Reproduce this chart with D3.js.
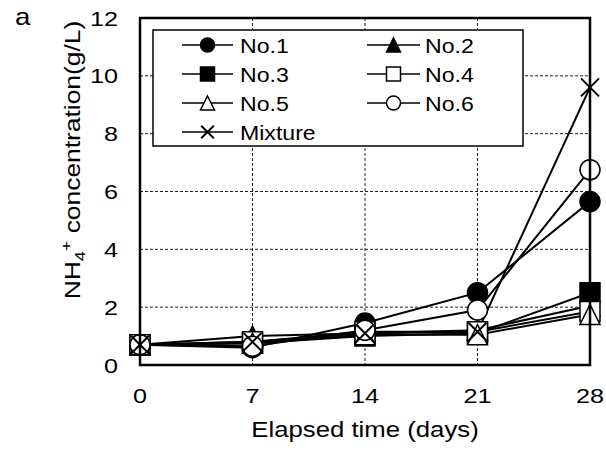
<!DOCTYPE html>
<html>
<head>
<meta charset="utf-8">
<script src="https://cdn.jsdelivr.net/npm/d3@7"></script>
<style>
  body { margin: 0; background: #fff; }
  text { font-family: "Liberation Sans", Arial, sans-serif; fill: #000; }
</style>
</head>
<body>
<div id="chart"></div>
<script>
// data
const days = [0, 7, 14, 21, 28];
const yTicks = [0, 2, 4, 6, 8, 10, 12];
const seriesNames = ["No.1", "No.2", "No.3", "No.4", "No.5", "No.6", "Mixture"];
const no1 = [0.7, 0.6, 1.45, 2.5, 5.65];
const no2 = [0.7, 1.0, 1.1, 1.2, 2.05];
const no3 = [0.7, 0.75, 1.0, 1.1, 2.5];
const no4 = [0.7, 0.8, 1.15, 1.15, 1.85];
const no5 = [0.7, 0.75, 1.05, 1.05, 1.75];
const no6 = [0.7, 0.65, 1.2, 1.9, 6.75];
const mixture = [0.7, 0.8, 1.1, 1.15, 9.6];

const series = [
  { name: seriesNames[0], values: no1, shape: "circle", fill: "#000" },
  { name: seriesNames[1], values: no2, shape: "triangle", fill: "#000" },
  { name: seriesNames[2], values: no3, shape: "square", fill: "#000" },
  { name: seriesNames[3], values: no4, shape: "square", fill: "#fff" },
  { name: seriesNames[4], values: no5, shape: "triangle", fill: "#fff" },
  { name: seriesNames[5], values: no6, shape: "circle", fill: "#fff" },
  { name: seriesNames[6], values: mixture, shape: "cross", fill: "none" }
];

const W = 606, H = 452;
const plot = { left: 140, right: 590, top: 18, bottom: 365 };

const svg = d3.select("#chart").append("svg")
  .attr("width", W).attr("height", H);

const x = d3.scaleLinear().domain([0, 28]).range([plot.left, plot.right]);
const y = d3.scaleLinear().domain([0, 12]).range([plot.bottom, plot.top]);

// marker path for a shape of size s
function markerPath(shape, s) {
  const h = s / 2;
  if (shape === "circle") {
    return `M${h},0A${h},${h} 0 1,1 ${-h},0A${h},${h} 0 1,1 ${h},0Z`;
  }
  if (shape === "square") return `M${-h},${-h}H${h}V${h}H${-h}Z`;
  if (shape === "triangle") return `M0,${-h}L${h},${h}L${-h},${h}Z`;
  return `M${-h},${-h}L${h},${h}M${h},${-h}L${-h},${h}`;
}

function drawMarker(g, d, cx, cy, s) {
  g.append("path")
    .attr("transform", `translate(${cx},${cy})`)
    .attr("d", markerPath(d.shape, d.shape === "cross" ? s * 0.9 : s))
    .attr("fill", d.fill)
    .attr("stroke", "#000")
    .attr("stroke-width", d.shape === "cross" ? 2 : 1.5);
}

// stretched text helper (the reference font runs wide)
function label(g, str, tx, ty, size, anchor, sx) {
  return g.append("text")
    .attr("transform", `translate(${tx},${ty}) scale(${sx},1)`)
    .attr("text-anchor", anchor)
    .style("font-size", size + "px")
    .text(str);
}

// gridlines
const grid = svg.append("g")
  .attr("stroke", "#222").attr("stroke-width", 1).attr("stroke-dasharray", "3,2");
grid.selectAll("line.gx").data(days.slice(1, -1)).enter().append("line")
  .attr("x1", d => x(d)).attr("x2", d => x(d))
  .attr("y1", plot.top).attr("y2", plot.bottom);
grid.selectAll("line.gy").data(yTicks.slice(1, -1)).enter().append("line")
  .attr("x1", plot.left).attr("x2", plot.right)
  .attr("y1", d => y(d)).attr("y2", d => y(d));

// legend box
const legend = svg.append("g");
legend.append("rect")
  .attr("x", 153).attr("y", 30).attr("width", 370).attr("height", 116)
  .attr("fill", "#fff").attr("stroke", "#000").attr("stroke-width", 1.5);
const legCols = [{ x1: 182, x2: 233, tx: 240 }, { x1: 367, x2: 420, tx: 425 }];
series.forEach((d, i) => {
  const col = legCols[i % 2];
  const ly = 45 + Math.floor(i / 2) * 29;
  legend.append("line")
    .attr("x1", col.x1).attr("x2", col.x2).attr("y1", ly).attr("y2", ly)
    .attr("stroke", "#000").attr("stroke-width", 1.5);
  drawMarker(legend, d, (col.x1 + col.x2) / 2, ly, 14);
  label(legend, d.name, col.tx, ly + 7.5, 21, "start", 1.1);
});

// series lines
const line = d3.line().x((v, i) => x(days[i])).y(v => y(v));
svg.append("g").selectAll("path").data(series).enter().append("path")
  .attr("d", d => line(d.values))
  .attr("fill", "none").attr("stroke", "#000").attr("stroke-width", 2);

// markers
const marks = svg.append("g");
series.forEach(d => {
  d.values.forEach((v, i) => drawMarker(marks, d, x(days[i]), y(v), 20));
});

// frame
svg.append("rect")
  .attr("x", plot.left).attr("y", plot.top)
  .attr("width", plot.right - plot.left).attr("height", plot.bottom - plot.top)
  .attr("fill", "none").attr("stroke", "#000").attr("stroke-width", 2.5);

// tick labels
const axes = svg.append("g");
days.forEach(d => label(axes, String(d), x(d), 403, 21, "middle", 1.2));
yTicks.forEach(d => label(axes, String(d), 118, y(d) + 7.5, 21, "end", 1.2));

// axis titles
label(svg, "Elapsed time (days)", 365, 437, 22, "middle", 1.17);

const yt = svg.append("text")
  .attr("transform", "translate(80,160) rotate(-90) scale(1.2,1)")
  .attr("text-anchor", "middle")
  .style("font-size", "22px");
yt.append("tspan").text("NH");
yt.append("tspan").attr("dy", 5).style("font-size", "15px").text("4");
yt.append("tspan").attr("dy", -14).style("font-size", "15px").text("+");
yt.append("tspan").attr("dy", 9).text(" concentration(g/L)");

// panel letter
label(svg, "a", 15, 25, 23, "start", 1.2);
</script>
</body>
</html>
